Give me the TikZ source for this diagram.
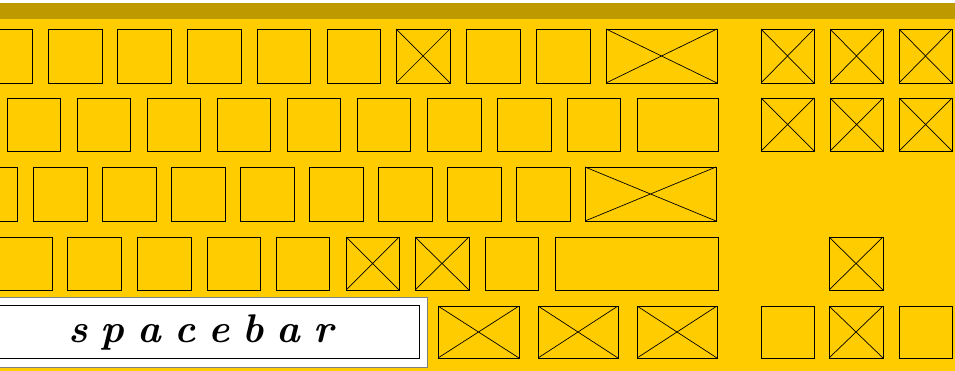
\documentclass[tikz,border=0pt]{standalone}
\usepackage{xcolor}
\usepackage{tikz}
\usetikzlibrary{positioning}

\definecolor{keyyellow}{HTML}{FFCC00}
\definecolor{topband}{HTML}{BF9900}

\begin{document}
\begin{tikzpicture}[
    x=1pt, y=-1pt,
    key/.style={rectangle, draw, line width=0.9pt, fill=keyyellow, inner sep=0pt, outer sep=0pt, anchor=north west},
    xkey/.style={key, path picture={
        \draw[line width=0.7pt] (path picture bounding box.north west) -- (path picture bounding box.south east)
              (path picture bounding box.north east) -- (path picture bounding box.south west);}},
    barframe/.style={rectangle, fill=white, draw=gray, line width=1pt, inner sep=0pt, anchor=north west},
    bartype/.style={font={\fontsize{40}{46}\selectfont\bfseries\itshape\spaceskip=13pt\relax}, inner sep=0pt},
]
    \useasboundingbox (0,0) rectangle (955,371);
    \fill[white] (0,0) rectangle (955,3);
    \fill[topband] (0,3) rectangle (955,19);
    \fill[keyyellow] (0,19) rectangle (955,371);

    % row 1
    \foreach \x/\w/\s [count=\i] in {-22/54/key, 48/54/key, 117/54/key, 187/54/key, 257/53/key,
        327/53/key, 396/54/xkey, 466/54/key, 536/54/key, 606/111/xkey,
        761/53/xkey, 830/53/xkey, 899/53/xkey}
        \node[\s, minimum width=\w pt, minimum height=54pt] (ra\i) at (\x,29) {};

    % row 2
    \foreach \x/\w/\s [count=\i] in {7/53/key, 77/53/key, 147/53/key, 217/53/key, 287/53/key,
        357/53/key, 427/54/key, 497/54/key, 567/53/key, 637/81/key,
        761/53/xkey, 830/53/xkey, 899/53/xkey}
        \node[\s, minimum width=\w pt, minimum height=53pt] (rb\i) at (\x,98) {};

    % row 3
    \foreach \x/\w/\s [count=\i] in {-36/53/key, 33/54/key, 102/54/key, 171/54/key, 240/54/key,
        309/54/key, 378/54/key, 447/54/key, 516/54/key, 585/131/xkey}
        \node[\s, minimum width=\w pt, minimum height=54pt] (rc\i) at (\x,167) {};

    % row 4
    \foreach \x/\w/\s [count=\i] in {-2/54/key, 67/54/key, 137/54/key, 207/53/key, 276/53/key,
        346/53/xkey, 415/54/xkey, 485/53/key, 555/163/key, 829/54/xkey}
        \node[\s, minimum width=\w pt, minimum height=53pt] (rd\i) at (\x,237) {};

    % row 5
    \node[barframe, minimum width=437pt, minimum height=70pt] (barbox) at (-10,297) {};
    \node[key, fill=white, minimum width=429pt, minimum height=53pt] (spacebar) at (-10,305) {};
    \node[bartype, anchor=base] (bartext) at (201,342) {s p a c e b a r};
    \foreach \x/\w/\s [count=\i] in {438/81/xkey, 538/80/xkey, 637/80/xkey,
        761/53/key, 829/54/xkey, 899/53/key}
        \node[\s, minimum width=\w pt, minimum height=52pt] (re\i) at (\x,306) {};
\end{tikzpicture}
\end{document}
